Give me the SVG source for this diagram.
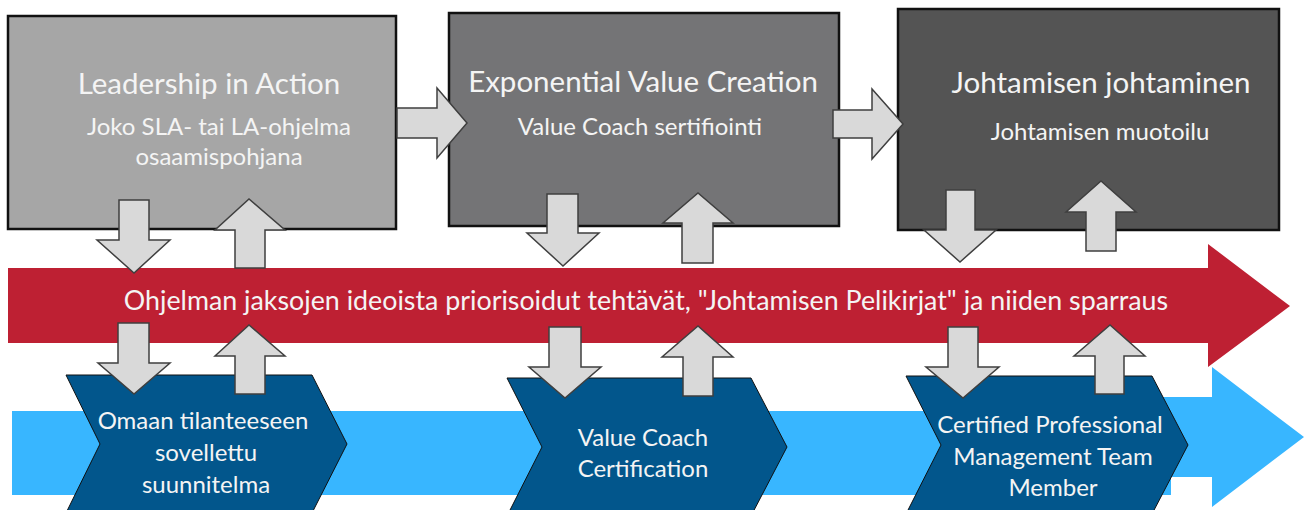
<svg xmlns="http://www.w3.org/2000/svg" width="1307" height="510" viewBox="0 0 1307 510">
<style>
.box{stroke:#111;stroke-width:2.5}
.arr{fill:#d9d9d9;stroke:#3f3f3f;stroke-width:1.5;stroke-linejoin:miter}
.chev{fill:#02568c;stroke:#111;stroke-width:1}
.t{font-family:Lato,"Liberation Sans",sans-serif;fill:#f4f4f4;text-anchor:middle}
.title{font-size:29.5px}
.sub{font-size:24px}
.band{font-size:26.8px}
.ch{font-size:24px}
</style>
<rect width="1307" height="510" fill="#ffffff"/>
<g id="box-leadership">
<rect class="box" x="8" y="16" width="388" height="213" fill="#a6a6a6"/>
<text class="t title" x="209" y="94">Leadership in Action</text>
<text class="t sub" x="219" y="135">Joko SLA- tai LA-ohjelma</text>
<text class="t sub" x="219" y="165">osaamispohjana</text>
</g>
<g id="box-exponential">
<rect class="box" x="449" y="13" width="390" height="213" fill="#747476"/>
<text class="t title" x="643" y="92">Exponential Value Creation</text>
<text class="t sub" x="640" y="135">Value Coach sertifiointi</text>
</g>
<g id="box-johtamisen">
<rect class="box" x="898" y="9" width="381" height="221" fill="#545454"/>
<text class="t title" x="1101" y="93">Johtamisen johtaminen</text>
<text class="t sub" x="1100" y="140">Johtamisen muotoilu</text>
</g>
<g id="band-red">
<polygon points="8,268 1208,268 1208,244 1290,306 1208,367 1208,343 8,343" fill="#be2033"/>
<text class="t band" x="646" y="310">Ohjelman jaksojen ideoista priorisoidut tehtävät, "Johtamisen Pelikirjat" ja niiden sparraus</text>
</g>
<g id="band-blue">
<polygon points="1000,397 1212,397 1212,367 1304,437 1212,507 1212,477 1000,477" fill="#38b6ff"/>
<rect x="12" y="411" width="1159" height="84" fill="#38b6ff"/>
</g>
<g id="chev-1">
<polygon class="chev" points="66,375 312,375 347,444 312,513 66,513 100,444"/>
<text class="t ch" x="203" y="429">Omaan tilanteeseen</text>
<text class="t ch" x="206" y="461">sovellettu</text>
<text class="t ch" x="206" y="493">suunnitelma</text>
</g>
<g id="chev-2">
<polygon class="chev" points="507,378 751,378 787,447 751,516 507,516 542,447"/>
<text class="t ch" x="643" y="446">Value Coach</text>
<text class="t ch" x="643" y="477">Certification</text>
</g>
<g id="chev-3">
<polygon class="chev" points="906,376 1152,376 1188,445 1152,514 906,514 941,445"/>
<text class="t ch" x="1050" y="433">Certified Professional</text>
<text class="t ch" x="1053" y="465">Management Team</text>
<text class="t ch" x="1053" y="496">Member</text>
</g>
<g id="connectors">
<polygon class="arr" points="397,108 437,108 437,88 467,123 437,158 437,138 397,138"/>
<polygon class="arr" points="833,110 872,110 872,89 903,124 872,159 872,138 833,138"/>
<polygon class="arr" points="119,200 149,200 149,240 170,240 134,273 97,240 119,240"/>
<polygon class="arr" points="235,268 265,268 265,230 285,230 249,199 215,230 235,230"/>
<polygon class="arr" points="547,194 578,194 578,233 599,233 563,266 527,233 547,233"/>
<polygon class="arr" points="682,263 713,263 713,223 733,223 698,193 663,223 682,223"/>
<polygon class="arr" points="946,190 975,190 975,230 996,230 960,262 924,230 946,230"/>
<polygon class="arr" points="1086,251 1116,251 1116,212 1136,212 1101,181 1066,212 1086,212"/>
<polygon class="arr" points="118,323 149,323 149,363 170,363 134,394 98,363 118,363"/>
<polygon class="arr" points="235,394 265,394 265,356 285,356 249,325 215,356 235,356"/>
<polygon class="arr" points="549,327 581,327 581,367 601,367 565,398 529,367 549,367"/>
<polygon class="arr" points="683,396 713,396 713,357 733,357 698,326 662,357 683,357"/>
<polygon class="arr" points="948,327 978,327 978,367 999,367 963,398 926,367 948,367"/>
<polygon class="arr" points="1095,394 1124,394 1124,356 1145,356 1110,325 1074,356 1095,356"/>
</g>
</svg>
